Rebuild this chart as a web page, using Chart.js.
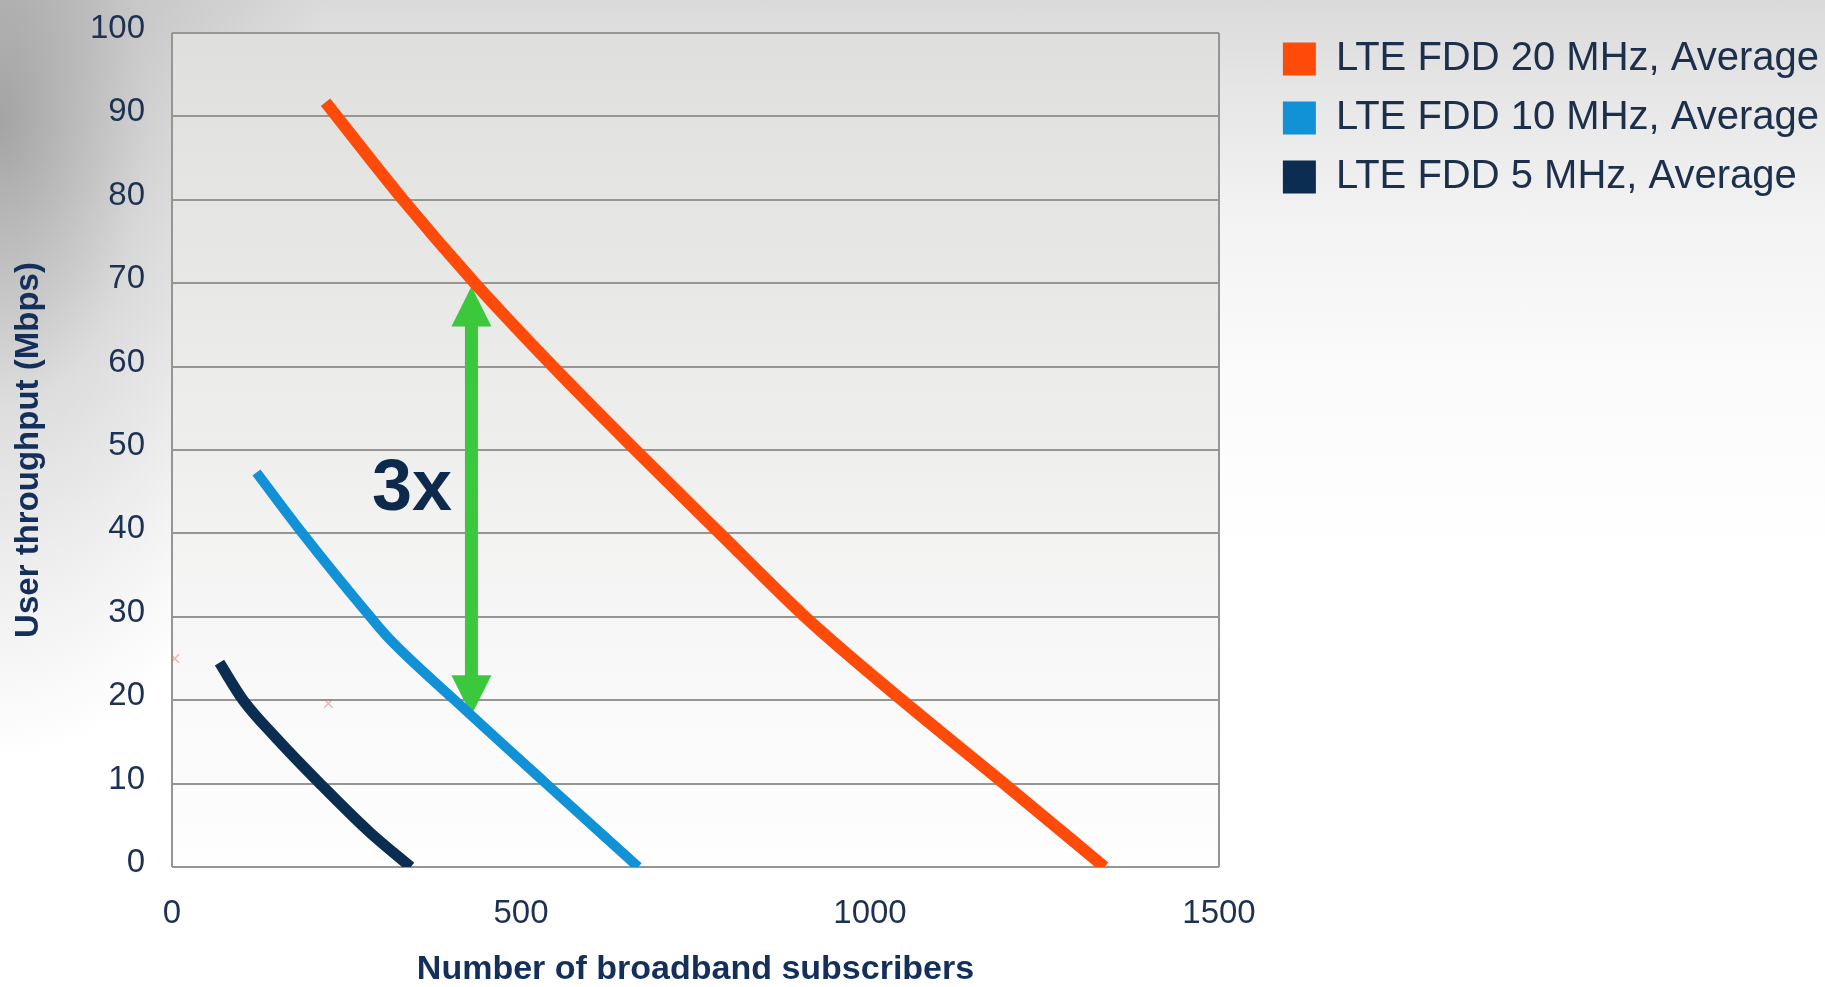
<!DOCTYPE html>
<html>
<head>
<meta charset="utf-8">
<script src="https://cdn.jsdelivr.net/npm/chart.js@4"></script>
<style>
html,body{margin:0;padding:0;}
body{width:1825px;height:987px;overflow:hidden;
background:
 radial-gradient(ellipse 330px 640px at 0px 120px, rgba(140,140,140,0.75) 0%, rgba(165,165,165,0.35) 45%, rgba(200,200,200,0) 100%),
 linear-gradient(to bottom, #dadada 0px, #e6e6e6 90px, #f3f3f3 220px, #fbfbfb 380px, #ffffff 560px);
}
#wrap{position:relative;width:1825px;height:987px;}
</style>
</head>
<body>
<div id="wrap"><canvas id="c"></canvas></div>
<script>
// ---- data ----
const seriesNames = ['LTE FDD 20 MHz, Average', 'LTE FDD 10 MHz, Average', 'LTE FDD 5 MHz, Average'];
const seriesColors = ['#ff4b0a', '#1192d6', '#0b2d51'];

const subs20 = [220, 331, 434, 546, 664, 785, 907, 1046, 1192, 1336];
const thr20  = [91.7, 80, 70, 60, 50, 40, 30, 20, 10, 0];

const subs10 = [121, 187, 284, 312, 405, 536, 668];
const thr10  = [47.3, 40, 30, 27.3, 20, 10, 0];

const subs5 = [68, 102, 150, 212, 284, 342];
const thr5  = [24.5, 20, 15.4, 10, 4.1, 0];

const markX = [4, 224];
const markY = [25, 19.6];

const arrowX = [429];
const arrowFrom = [18.2];
const arrowTo = [69.6];
const ratioLabel = '3x';
const ratioX = [344];
const ratioY = [45.2];

const xTickValues = [0, 500, 1000, 1500];
const xMin = 0, xMax = 1500, yMin = 0, yMax = 100, yStep = 10;
const xTitle = 'Number of broadband subscribers';
const yTitle = 'User throughput (Mbps)';

// ---- helpers ----
function pts(xs, ys) { return xs.map((x, i) => ({ x: x, y: ys[i] })); }
function hasFont(name) {
  const c = document.createElement('canvas').getContext('2d');
  const s = 'abcdefghijklm0123456789';
  c.font = '40px monospace';
  const a = c.measureText(s).width;
  c.font = "40px '" + name + "', monospace";
  const b = c.measureText(s).width;
  return Math.abs(a - b) > 0.5;
}
const FONT = "'Liberation Sans', Arial, Helvetica, sans-serif";
const NARROW = hasFont('Liberation Sans Narrow');
const tickFont = NARROW
  ? { family: "'Liberation Sans Narrow', 'Liberation Sans', sans-serif", size: 37 }
  : { family: FONT, size: 33 };
const gridColor = '#979591';
const tickColor = '#1d3253';
const PAD_RIGHT = -4;
const PLOT_RIGHT = 1219;

const plotBg = {
  id: 'plotBg',
  beforeDraw(chart) {
    const { ctx, chartArea: a } = chart;
    const g = ctx.createLinearGradient(0, a.top, 0, a.bottom);
    g.addColorStop(0, '#dfdfdd');
    g.addColorStop(0.4, '#ebebea');
    g.addColorStop(0.75, '#f8f8f8');
    g.addColorStop(1, '#fefefe');
    ctx.save();
    ctx.fillStyle = g;
    ctx.fillRect(a.left, a.top, a.right - a.left, a.bottom - a.top);
    ctx.restore();
  }
};

const arrowPlugin = {
  id: 'arrowPlugin',
  beforeDatasetsDraw(chart) {
    const xs = chart.scales.x, ys = chart.scales.y, ctx = chart.ctx;
    const px = xs.getPixelForValue(arrowX[0]);
    const yTop = ys.getPixelForValue(arrowTo[0]);
    const yBot = ys.getPixelForValue(arrowFrom[0]);
    const head = 40, hw = 20, sw = 13;
    ctx.save();
    ctx.fillStyle = '#3cc83c';
    ctx.fillRect(px - sw / 2, yTop + head - 1, sw, (yBot - yTop) - 2 * head + 2);
    ctx.beginPath();
    ctx.moveTo(px, yTop); ctx.lineTo(px + hw, yTop + head); ctx.lineTo(px - hw, yTop + head);
    ctx.closePath(); ctx.fill();
    ctx.beginPath();
    ctx.moveTo(px, yBot); ctx.lineTo(px + hw, yBot - head); ctx.lineTo(px - hw, yBot - head);
    ctx.closePath(); ctx.fill();
    ctx.restore();
  },
  afterDatasetsDraw(chart) {
    const xs = chart.scales.x, ys = chart.scales.y, ctx = chart.ctx;
    ctx.save();
    ctx.fillStyle = '#0d2a4c';
    ctx.font = "bold 72px " + FONT;
    ctx.textAlign = 'center';
    ctx.textBaseline = 'middle';
    ctx.fillText(ratioLabel, xs.getPixelForValue(ratioX[0]), ys.getPixelForValue(ratioY[0]));
    ctx.restore();
  }
};

const lineDs = (i, xs, ys, w) => ({
  label: seriesNames[i],
  data: pts(xs, ys),
  borderColor: seriesColors[i],
  backgroundColor: seriesColors[i],
  borderWidth: w,
  pointRadius: 0,
  pointHoverRadius: 0,
  cubicInterpolationMode: 'monotone',
  borderCapStyle: 'butt',
  borderJoinStyle: 'round'
});

new Chart(document.getElementById('c'), {
  type: 'line',
  data: {
    datasets: [
      lineDs(0, subs20, thr20, 12),
      lineDs(1, subs10, thr10, 10),
      lineDs(2, subs5, thr5, 11),
      {
        label: 'marks',
        data: pts(markX, markY),
        showLine: false,
        pointStyle: 'crossRot',
        pointRadius: 6,
        borderColor: 'rgba(230,110,110,0.5)',
        backgroundColor: 'rgba(0,0,0,0)',
        borderWidth: 1.5
      }
    ]
  },
  options: {
    responsive: true,
    maintainAspectRatio: false,
    animation: false,
    devicePixelRatio: 1,
    layout: { padding: { top: 20, right: PAD_RIGHT, left: 0, bottom: 0 } },
    plugins: {
      tooltip: { enabled: false },
      legend: {
        display: true,
        position: 'right',
        align: 'start',
        maxWidth: 700,
        labels: {
          boxWidth: 33,
          boxHeight: 33,
          padding: 19,
          color: '#1c2f4b',
          font: { family: FONT, size: 40 },
          filter: (item) => item.datasetIndex < 3,
          generateLabels: (chart) => {
            const items = Chart.defaults.plugins.legend.labels.generateLabels(chart);
            return items.map(it => Object.assign(it, { lineWidth: 0, strokeStyle: 'rgba(0,0,0,0)' }));
          }
        }
      }
    },
    scales: {
      x: {
        type: 'linear',
        position: 'bottom',
        min: xMin, max: xMax,
        afterBuildTicks: (s) => { s.ticks = xTickValues.map(v => ({ value: v })); },
        afterFit: (s) => { s.height = 120; },
        grid: {
          drawTicks: false,
          lineWidth: 2,
          color: (c) => (c.tick && (c.tick.value === xMin || c.tick.value === xMax)) ? gridColor : 'rgba(0,0,0,0)'
        },
        border: { display: false },
        ticks: { color: tickColor, padding: 27, font: tickFont, maxRotation: 0, callback: (v) => String(v) },
        title: {
          display: true, text: xTitle, color: '#14305a',
          font: { family: FONT, size: 34, weight: 'bold', lineHeight: 1.0 },
          padding: { top: 0, bottom: 0 }
        }
      },
      x2: {
        type: 'linear',
        position: 'top',
        display: true,
        grid: { display: false, drawTicks: false },
        border: { display: false },
        ticks: { display: false },
        afterFit: (s) => { s.height = 13; }
      },
      y: {
        type: 'linear',
        position: 'left',
        min: yMin, max: yMax,
        afterFit: (s) => { s.width = 172; },
        grid: { drawTicks: true, tickLength: 27, tickColor: 'rgba(0,0,0,0)', lineWidth: 2, color: gridColor },
        border: { display: false },
        ticks: { stepSize: yStep, color: tickColor, padding: 0, labelOffset: -4, font: tickFont, callback: (v) => String(v) },
        title: {
          display: true, text: yTitle, color: '#14305a',
          font: { family: FONT, size: 33, weight: 'bold' },
          padding: { top: 9, bottom: 0 }
        }
      },
      y2: {
        type: 'linear',
        position: 'right',
        display: true,
        grid: { display: false, drawTicks: false },
        border: { display: false },
        ticks: { display: false },
        afterFit: (s) => {
          const lg = s.chart.legend;
          s.width = Math.max(0, (s.chart.width - PAD_RIGHT - (lg ? lg.width : 0)) - PLOT_RIGHT);
        }
      }
    }
  },
  plugins: [plotBg, arrowPlugin]
});
</script>
</body>
</html>
